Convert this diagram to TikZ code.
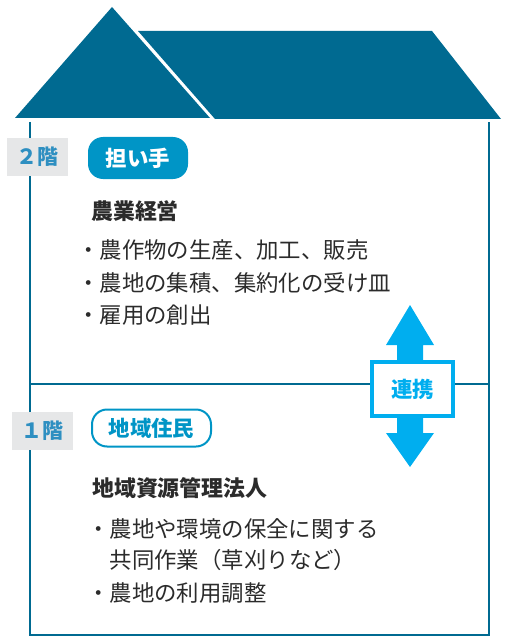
\documentclass[tikz,border=0pt]{standalone}
\usepackage{fontspec}
\setmainfont{Noto Sans CJK JP}
\usetikzlibrary{positioning}
\definecolor{roofblue}{HTML}{006A91}
\definecolor{floorgray}{HTML}{E6E7E8}
\definecolor{floortext}{HTML}{2E8FC1}
\definecolor{pillblue}{HTML}{0095C6}
\definecolor{cyanlink}{HTML}{00AEEF}
\definecolor{bodytext}{HTML}{2B2B2B}
\tikzset{
  wall/.style={draw=roofblue, line width=2.2bp},
  floorlabel/.style={fill=floorgray, text=floortext, font=\fontsize{21}{24}\selectfont\bfseries, minimum width=61bp, minimum height=38bp, inner sep=0pt},
  heading/.style={anchor=west, inner sep=0pt, text=bodytext, font=\fontsize{22}{25}\selectfont\bfseries},
  item/.style={anchor=west, inner sep=0pt, text=bodytext, font=\fontsize{22.5}{26}\selectfont},
}
\begin{document}
\begin{tikzpicture}[x=1bp,y=-1bp]
\useasboundingbox (0,0) rectangle (509,642);
% roof
\fill[roofblue] (15,118) -- (112,7) -- (210,118) -- cycle;
\fill[roofblue] (138,31) -- (432,31) -- (501,119) -- (215,119) -- cycle;
% walls
\coordinate (tl) at (30,122);
\coordinate (tr) at (489,122);
\coordinate (bl) at (30,635);
\coordinate (br) at (489,635);
\coordinate (fl) at (30,384);
\coordinate (fr) at (489,384);
\draw[wall] (tl) -- (bl) -- (br) -- (tr);
\draw[wall] (fl) -- (fr);
% floor labels
\node[floorlabel] (f2) at (37.5,157) {２階};
\node[floorlabel] (f1) at (42.5,431) {１階};
% pills
\node[fill=pillblue, rounded corners=15bp, minimum width=100bp, minimum height=42bp, inner sep=0pt, text=white, font=\fontsize{21.5}{24}\selectfont\bfseries] (p2) at (138,158) {担い手};
\node[draw=pillblue, line width=2bp, rounded corners=15bp, minimum width=119bp, minimum height=37bp, inner sep=0pt, text=pillblue, font=\fontsize{21.5}{24}\selectfont\bfseries] (p1) at (151.5,428) {地域住民};
% upper text
\node[heading] (h2) at (91,211) {農業経営};
\node[item] (a1) at (77,250) {・農作物の生産、加工、販売};
\node[item] (a2) at (77,283) {・農地の集積、集約化の受け皿};
\node[item] (a3) at (77,315) {・雇用の創出};
% lower text
\node[heading] (h1) at (92,488) {地域資源管理法人};
\node[item] (b1) at (87,529) {・農地や環境の保全に関する};
\node[item] (b2) at (109.5,560) {共同作業（草刈りなど）};
\node[item] (b3) at (87,593) {・農地の利用調整};
% link arrow
\fill[cyanlink] (410,305) -- (434,345) -- (423,345) -- (423,433) -- (434,433) -- (410,467) -- (386,433) -- (397,433) -- (397,345) -- (386,345) -- cycle;
\node[draw=cyanlink, fill=white, line width=3.5bp, minimum width=81bp, minimum height=54bp, inner sep=0pt, text=cyanlink, font=\fontsize{21.5}{24}\selectfont\bfseries] (link) at (412.5,389) {連携};
\end{tikzpicture}
\end{document}
